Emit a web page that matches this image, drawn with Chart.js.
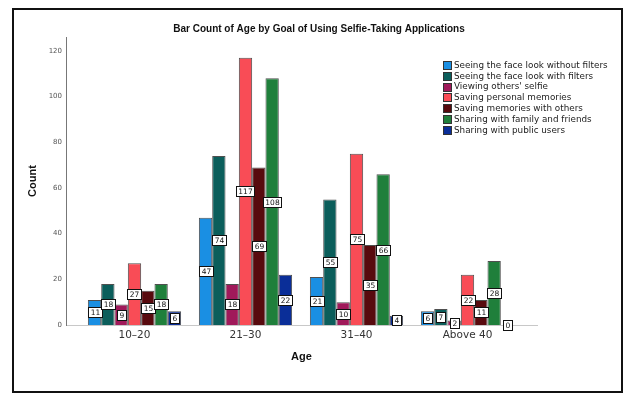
<!DOCTYPE html>
<html>
<head>
<meta charset="utf-8">
<script src="https://cdn.jsdelivr.net/npm/chart.js@4/dist/chart.umd.min.js"></script>
<style>
  html, body { margin: 0; padding: 0; background: #fff; }
  #wrap { position: relative; width: 625px; height: 395px; }
  #frame { position: absolute; left: 12px; top: 8px; width: 607px; height: 381px; border: 2px solid #111; box-sizing: content-box; pointer-events: none; }
  canvas { position: absolute; left: 0; top: 0; }
</style>
</head>
<body>
<div id="wrap">
  <canvas id="c" width="625" height="395"></canvas>
  <div id="frame"></div>
</div>
<script>
// ---- data ----
const ageGroups = ['10\u201320', '21\u201330', '31\u201340', 'Above 40'];
const goals = [
  'Seeing the face look without filters',
  'Seeing the face look with filters',
  "Viewing others' selfie",
  'Saving personal memories',
  'Saving memories with others',
  'Sharing with family and friends',
  'Sharing with public users'
];
const withoutFilters   = [11, 47, 21, 6];
const withFilters      = [18, 74, 55, 7];
const viewingOthers    = [9, 18, 10, 2];
const personalMemories = [27, 117, 75, 22];
const memoriesOthers   = [15, 69, 35, 11];
const familyFriends    = [18, 108, 66, 28];
const publicUsers      = [6, 22, 4, 0];
const yTicks = [0, 20, 40, 60, 80, 100, 120];
const chartTitle = 'Bar Count of Age by Goal of Using Selfie-Taking Applications';

const seriesValues = [withoutFilters, withFilters, viewingOthers, personalMemories, memoriesOthers, familyFriends, publicUsers];
const colors = ['#1a8fe3', '#0b5e5b', '#a0195a', '#f94c56', '#580a0e', '#1f7f3b', '#0a2e98'];

const datasets = seriesValues.map((vals, i) => ({
  label: goals[i],
  data: vals.map((v, k) => ({ x: k, y: v })),
  backgroundColor: colors[i],
  borderColor: 'rgba(20,20,20,0.75)',
  borderWidth: 1,
  borderSkipped: 'bottom',
  categoryPercentage: 0.84,
  barPercentage: 1.0
}));

const FONT = '"Liberation Sans", Arial, sans-serif';
const LFONT = '"DejaVu Sans", Verdana, sans-serif';

const overlayPlugin = {
  id: 'overlay',
  afterDatasetsDraw(chart) {
    const ctx = chart.ctx;
    ctx.save();
    // data labels
    ctx.font = '7.5px ' + LFONT;
    ctx.textAlign = 'center';
    ctx.textBaseline = 'middle';
    chart.data.datasets.forEach((ds, di) => {
      const meta = chart.getDatasetMeta(di);
      meta.data.forEach((el, i) => {
        const v = ds.data[i].y;
        const txt = String(v);
        const cx = el.x;
        const cy = (el.y + el.base) / 2;
        const w = Math.round(ctx.measureText(txt).width + 4);
        const h = 10;
        const bx = Math.round(cx - w / 2) + 0.5;
        const by = Math.round(cy - h / 2) + 0.5;
        ctx.fillStyle = '#fff';
        ctx.fillRect(bx, by, w, h);
        ctx.strokeStyle = '#111';
        ctx.lineWidth = 1;
        ctx.strokeRect(bx, by, w, h);
        ctx.fillStyle = '#111';
        ctx.fillText(txt, bx + w / 2, by + h / 2 + 0.5);
      });
    });
    ctx.restore();
  },
  afterDraw(chart) {
    const ctx = chart.ctx;
    ctx.save();
    // title
    ctx.font = 'bold 10px ' + FONT;
    ctx.fillStyle = '#111';
    ctx.textAlign = 'center';
    ctx.textBaseline = 'middle';
    ctx.fillText(chartTitle, 319, 29);
    // legend
    ctx.font = '8.8px ' + LFONT;
    ctx.textAlign = 'left';
    goals.forEach((g, i) => {
      const y = 65 + i * 10.83;
      ctx.fillStyle = colors[i];
      ctx.fillRect(443.5, Math.round(y - 4) + 0.5, 8, 8);
      ctx.strokeStyle = '#333';
      ctx.lineWidth = 1;
      ctx.strokeRect(443.5, Math.round(y - 4) + 0.5, 8, 8);
      ctx.fillStyle = '#222';
      ctx.fillText(g, 454, y + 0.5);
    });
    ctx.restore();
  }
};

new Chart(document.getElementById('c'), {
  type: 'bar',
  data: { datasets },
  plugins: [overlayPlugin],
  options: {
    responsive: false,
    animation: false,
    layout: { padding: { left: 0, right: 88, top: 37, bottom: 0 } },
    plugins: {
      legend: { display: false },
      title: { display: false },
      tooltip: { enabled: false }
    },
    scales: {
      x: {
        type: 'linear',
        offset: false,
        min: -0.617,
        max: 3.626,
        grid: { display: false, drawTicks: false, offset: false },
        border: { display: true, color: '#c8c8c8', width: 1 },
        afterFit(s) { s.height = 70; },
        ticks: {
          stepSize: 1,
          includeBounds: false,
          autoSkip: false,
          maxRotation: 0,
          padding: 4,
          color: '#333',
          font: { family: LFONT, size: 10.5 },
          callback: (v) => Number.isInteger(v) ? ageGroups[v] : ''
        },
        title: {
          display: true,
          text: 'Age',
          color: '#111',
          font: { family: FONT, size: 11, weight: 'bold' },
          padding: { top: 0, bottom: 31 }
        }
      },
      y: {
        min: 0,
        max: 126.1,
        afterFit(s) { s.width = 66; },
        afterBuildTicks(s) { s.ticks = yTicks.map(v => ({ value: v })); },
        grid: { display: false, drawTicks: false },
        border: { display: true, color: '#777', width: 1 },
        ticks: {
          padding: 4,
          color: '#555',
          font: { family: LFONT, size: 7 }
        },
        title: {
          display: true,
          text: 'Count',
          color: '#111',
          font: { family: FONT, size: 11, weight: 'bold' },
          padding: { top: 26, bottom: 0 }
        }
      }
    }
  }
});
</script>
</body>
</html>
